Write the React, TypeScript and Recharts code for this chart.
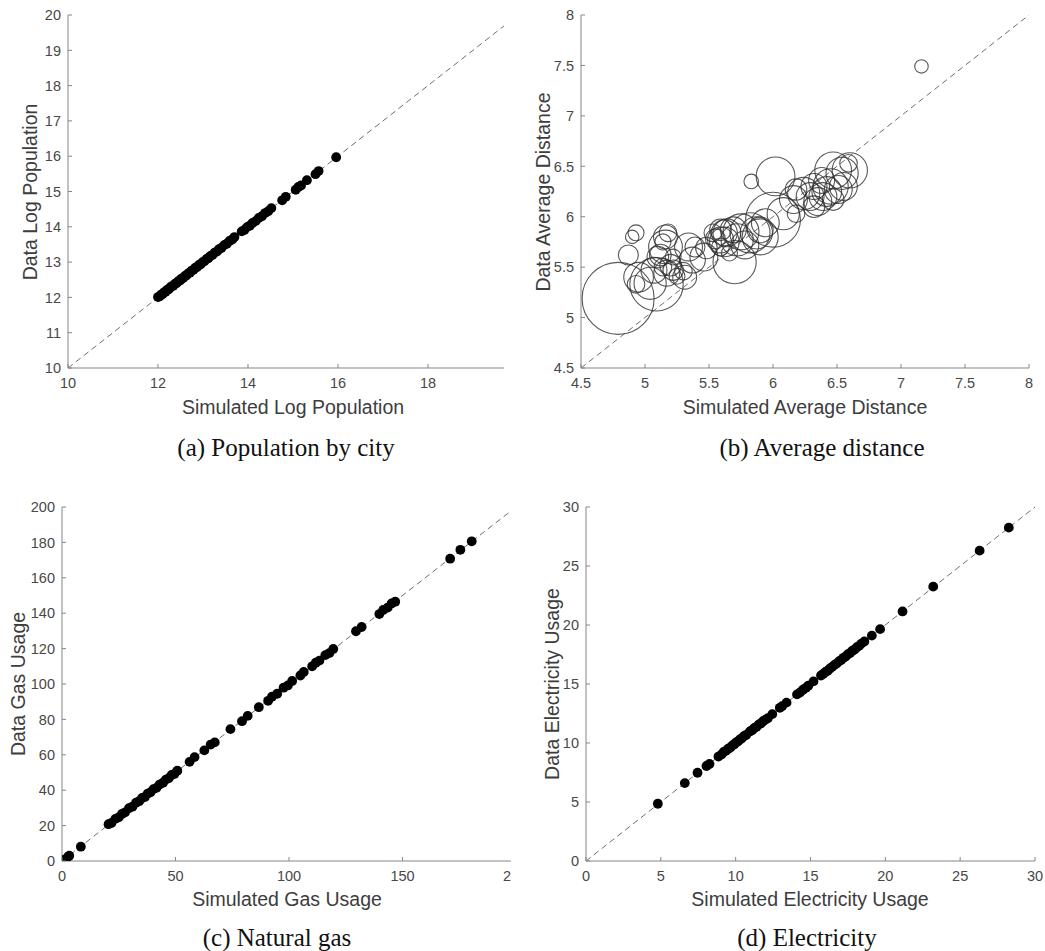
import React from 'react';
import { ScatterChart, Scatter, XAxis, YAxis, ZAxis, ReferenceLine } from 'recharts';

// ---------- Data ----------
// (a) Population by city
const popSim = [12.00, 12.04, 12.07, 12.10, 12.13, 12.17, 12.20, 12.24, 12.27, 12.30, 12.34, 12.38, 12.41, 12.45, 12.49, 12.52, 12.56, 12.60, 12.63, 12.67, 12.71, 12.75, 12.79, 12.83, 12.87, 12.91, 12.95, 12.99, 13.03, 13.08, 13.12, 13.16, 13.21, 13.26, 13.31, 13.36, 13.41, 13.47, 13.53, 13.59, 13.65, 13.70, 13.86, 13.92, 13.98, 14.04, 14.10, 14.17, 14.24, 14.31, 14.38, 14.45, 14.52, 14.76, 14.84, 15.06, 15.12, 15.18, 15.31, 15.50, 15.57, 15.96];
const popData = [12.01, 12.03, 12.08, 12.09, 12.14, 12.16, 12.21, 12.23, 12.28, 12.31, 12.33, 12.39, 12.40, 12.46, 12.48, 12.53, 12.55, 12.61, 12.62, 12.68, 12.70, 12.76, 12.78, 12.84, 12.86, 12.92, 12.94, 13.00, 13.02, 13.09, 13.11, 13.17, 13.20, 13.27, 13.30, 13.37, 13.40, 13.48, 13.52, 13.60, 13.64, 13.71, 13.87, 13.91, 13.99, 14.03, 14.11, 14.16, 14.25, 14.30, 14.39, 14.44, 14.53, 14.75, 14.85, 15.05, 15.13, 15.17, 15.32, 15.49, 15.58, 15.97];
const popXTicks = [10, 12, 14, 16, 18];
const popYTicks = [10, 11, 12, 13, 14, 15, 16, 17, 18, 19, 20];

// (b) Average distance (bubble weight = relative city size)
const distSim = [4.79, 7.16, 5.83, 6.02, 6.00, 5.70, 5.09, 4.87, 4.93, 4.90, 4.95, 4.93, 5.04, 5.07, 5.10, 5.16, 5.18, 5.16, 5.14, 5.17, 5.14, 5.22, 5.30, 5.31, 5.34, 5.37, 5.46, 5.48, 5.53, 5.59, 5.59, 5.64, 5.69, 5.72, 5.82, 5.87, 5.90, 5.94, 6.08, 6.16, 6.18, 6.24, 6.29, 6.32, 6.39, 6.45, 6.47, 6.54, 6.60, 6.59, 6.51, 6.38, 6.47, 6.32, 6.18, 5.59, 5.66, 5.22, 5.25, 5.39, 5.62, 5.75, 5.62, 5.90, 5.78, 5.55, 6.42, 6.35, 6.55, 5.12, 5.20];
const distData = [5.19, 7.49, 6.35, 6.40, 5.97, 5.55, 5.33, 5.62, 5.84, 5.80, 5.40, 5.33, 5.34, 5.47, 5.60, 5.70, 5.84, 5.80, 5.75, 5.44, 5.50, 5.47, 5.46, 5.40, 5.70, 5.57, 5.60, 5.69, 5.84, 5.87, 5.77, 5.84, 5.87, 5.77, 5.84, 5.84, 5.87, 5.94, 6.03, 6.17, 6.03, 6.23, 6.20, 6.30, 6.20, 6.30, 6.46, 6.43, 6.46, 6.53, 6.27, 6.36, 6.17, 6.10, 6.27, 5.70, 5.64, 5.60, 5.41, 5.70, 5.84, 5.85, 5.75, 5.80, 5.72, 5.78, 6.25, 6.15, 6.30, 5.62, 5.52];
const distWeight = [100, 3.5, 4.1, 29, 58, 36, 55, 7.7, 4.9, 3.5, 17, 6, 20, 13, 9, 22, 6, 11, 5, 13, 6, 8, 6, 11, 15, 13, 15, 9, 6, 9, 13, 15, 13, 20, 31, 20, 13, 15, 20, 15, 6, 20, 15, 13, 15, 24, 26, 20, 24, 6, 15, 13, 9, 9, 9, 6, 4.9, 4.9, 4.9, 7.7, 13, 25, 17, 25, 15, 7.7, 17, 15, 15, 9, 9];
const distTicks = [4.5, 5, 5.5, 6, 6.5, 7, 7.5, 8];

// (c) Natural gas
const gasSim = [0.2, 1.0, 2.5, 3.2, 8.3, 20.5, 21.8, 23.5, 25.0, 26.4, 27.8, 29.5, 31.0, 32.6, 34.0, 35.3, 36.5, 37.8, 39.0, 40.3, 41.6, 43.0, 44.5, 45.8, 47.0, 48.3, 49.5, 50.8, 56.2, 58.4, 62.7, 65.5, 67.3, 74.2, 79.3, 81.8, 86.7, 90.8, 92.5, 94.8, 97.6, 99.5, 101.4, 105.0, 106.5, 110.2, 111.8, 113.4, 116.0, 117.8, 119.5, 129.5, 132.0, 139.8, 141.5, 143.5, 145.2, 146.8, 171.0, 175.5, 180.5];
const gasData = [0.1, 0.8, 2.2, 3.0, 8.1, 20.8, 21.5, 23.8, 24.7, 26.6, 27.5, 29.8, 30.7, 32.9, 33.8, 35.6, 36.2, 38.1, 38.8, 40.6, 41.3, 43.2, 44.2, 46.0, 46.8, 48.6, 49.2, 51.0, 56.0, 58.7, 62.5, 65.8, 67.0, 74.5, 79.0, 82.0, 86.9, 90.5, 92.8, 94.5, 97.9, 99.2, 101.7, 104.8, 106.8, 110.0, 112.0, 113.2, 116.3, 117.5, 119.8, 129.8, 132.2, 139.5, 141.8, 143.2, 145.5, 146.5, 170.8, 175.8, 180.6];
const gasXTicks = [0, 50, 100, 150, 200];
// the last label is cropped to "2" in the original figure
const gasXTickLabels = ['0', '50', '100', '150', '2'];
const gasYTicks = [0, 20, 40, 60, 80, 100, 120, 140, 160, 180, 200];

// (d) Electricity
const elecSim = [4.8, 6.6, 7.45, 8.05, 8.25, 8.85, 9.05, 9.2, 9.35, 9.5, 9.65, 9.78, 9.9, 10.02, 10.15, 10.28, 10.4, 10.55, 10.7, 10.95, 11.1, 11.25, 11.4, 11.55, 11.7, 11.85, 12.0, 12.15, 12.45, 12.95, 13.1, 13.4, 14.1, 14.3, 14.5, 14.7, 14.85, 15.2, 15.7, 15.85, 16.0, 16.15, 16.3, 16.45, 16.6, 16.75, 16.9, 17.05, 17.2, 17.35, 17.5, 17.65, 17.8, 17.95, 18.1, 18.25, 18.4, 18.6, 19.1, 19.65, 21.15, 23.2, 26.3, 28.25];
const elecData = [4.85, 6.6, 7.48, 8.05, 8.22, 8.85, 9.02, 9.25, 9.33, 9.52, 9.62, 9.8, 9.88, 10.05, 10.12, 10.3, 10.38, 10.57, 10.68, 10.98, 11.08, 11.27, 11.38, 11.57, 11.68, 11.87, 11.98, 12.1, 12.45, 12.98, 13.12, 13.42, 14.12, 14.28, 14.52, 14.68, 14.85, 15.22, 15.72, 15.85, 16.02, 16.13, 16.32, 16.45, 16.62, 16.73, 16.92, 17.03, 17.22, 17.33, 17.52, 17.63, 17.82, 17.93, 18.12, 18.23, 18.42, 18.6, 19.1, 19.65, 21.15, 23.25, 26.3, 28.25];
const elecTicks = [0, 5, 10, 15, 20, 25, 30];

// ---------- Styles ----------
const AXIS = '#858585';
const TICK_TEXT = '#484848';
const LABEL_TEXT = '#3d3d3d';
const SANS = '"Liberation Sans", Arial, Helvetica, sans-serif';
const SERIF = '"Liberation Serif", "Times New Roman", serif';
const TICK_FS = 14.5;
const LABEL_FS = 19.5;
const CAPTION_FS = 25;
const TICK_LEN = 4;
const XM = 10;
const YM = 7;

const zip = (xs: number[], ys: number[]) =>
  xs.slice(0, Math.min(xs.length, ys.length)).map((x, i) => ({ x, y: ys[i] }));
const zip3 = (xs: number[], ys: number[], zs: number[]) =>
  xs.slice(0, Math.min(xs.length, ys.length, zs.length)).map((x, i) => ({ x, y: ys[i], z: zs[i] }));

const XTick = (props: any) => {
  const { x, y, payload, labels, ticks, maxX } = props;
  const ay = y - XM;
  let label: any = payload.value;
  if (labels && ticks) {
    const idx = ticks.indexOf(payload.value);
    if (idx >= 0) label = labels[idx];
  }
  const lx = maxX != null ? Math.min(x, maxX) : x;
  return (
    <g>
      <line x1={x} x2={x} y1={ay} y2={ay - TICK_LEN} stroke={AXIS} strokeWidth={1} />
      <text x={lx} y={y} dy="0.71em" textAnchor="middle" fontFamily={SANS} fontSize={TICK_FS} fill={TICK_TEXT}>
        {label}
      </text>
    </g>
  );
};

const YTick = (props: any) => {
  const { x, y, payload } = props;
  const ax = x + YM;
  return (
    <g>
      <line x1={ax} x2={ax + TICK_LEN} y1={y} y2={y} stroke={AXIS} strokeWidth={1} />
      <text x={x} y={y} dy="0.36em" textAnchor="end" fontFamily={SANS} fontSize={TICK_FS} fill={TICK_TEXT}>
        {payload.value}
      </text>
    </g>
  );
};

const Dot = (props: any) => {
  const { cx, cy } = props;
  if (cx == null || cy == null) return null;
  return <circle cx={cx} cy={cy} r={4.9} fill="#000" />;
};

const Ring = (props: any) => {
  const { cx, cy, width, size } = props;
  if (cx == null || cy == null) return null;
  const r = width ? width / 2 : Math.sqrt((size || 64) / Math.PI);
  return <circle cx={cx} cy={cy} r={r} fill="none" stroke="#2e2e2e" strokeOpacity={0.8} strokeWidth={1.1} />;
};

type PanelProps = {
  left: number;
  top: number;
  clipWidth: number;
  width: number;
  height: number;
  margin: { top: number; right: number; bottom: number; left: number };
  xDomain: [number, number];
  yDomain: [number, number];
  xTicks: number[];
  xLabels?: string[];
  xMaxLabel?: number;
  yTicks: number[];
  diagEnd: number;
  diagStart: number;
  children: React.ReactNode;
  z?: boolean;
};

const Panel = (p: PanelProps) => (
  <div style={{ position: 'absolute', left: p.left, top: p.top, width: p.clipWidth, height: p.height, overflow: 'hidden' }}>
    <ScatterChart width={p.width} height={p.height} margin={p.margin}>
      <XAxis
        type="number"
        dataKey="x"
        domain={p.xDomain}
        ticks={p.xTicks}
        interval={0}
        allowDataOverflow
        height={30}
        tickSize={0}
        tickMargin={XM}
        tickLine={false}
        axisLine={{ stroke: AXIS, strokeWidth: 1 }}
        tick={<XTick labels={p.xLabels} ticks={p.xTicks} maxX={p.xMaxLabel} />}
      />
      <YAxis
        type="number"
        dataKey="y"
        domain={p.yDomain}
        ticks={p.yTicks}
        interval={0}
        allowDataOverflow
        width={40}
        tickSize={0}
        tickMargin={YM}
        tickLine={false}
        axisLine={{ stroke: AXIS, strokeWidth: 1 }}
        tick={<YTick />}
      />
      {p.z ? <ZAxis type="number" dataKey="z" domain={[0, 100]} range={[0, Math.PI * 36 * 36]} /> : null}
      <ReferenceLine
        segment={[
          { x: p.diagStart, y: p.diagStart },
          { x: p.diagEnd, y: p.diagEnd },
        ]}
        stroke="#6e6e6e"
        strokeWidth={1}
        strokeDasharray="6 4"
        ifOverflow="visible"
      />
      {p.children}
    </ScatterChart>
  </div>
);

export default function App() {
  return (
    <div style={{ position: 'absolute', left: 0, top: 0, width: 1045, height: 951, overflow: 'hidden', background: '#fff' }}>
      {/* (a) */}
      <Panel
        left={0} top={0} clipWidth={520} width={520} height={460}
        margin={{ top: 15, right: 16, bottom: 62, left: 28 }}
        xDomain={[10, 19.69]} yDomain={[10, 20]} xTicks={popXTicks} yTicks={popYTicks}
        diagStart={10} diagEnd={19.69}
      >
        <Scatter data={zip(popSim, popData)} shape={<Dot />} isAnimationActive={false} />
      </Panel>
      {/* (b) */}
      <Panel
        left={520} top={0} clipWidth={525} width={525} height={460}
        margin={{ top: 15, right: 16, bottom: 62, left: 21 }}
        xDomain={[4.5, 8]} yDomain={[4.5, 8]} xTicks={distTicks} yTicks={distTicks}
        diagStart={4.5} diagEnd={8} z
      >
        <Scatter data={zip3(distSim, distData, distWeight)} shape={<Ring />} isAnimationActive={false} />
      </Panel>
      {/* (c) */}
      <Panel
        left={0} top={490} clipWidth={511} width={540} height={461}
        margin={{ top: 17, right: 24, bottom: 60, left: 22 }}
        xDomain={[0, 200]} yDomain={[0, 200]} xTicks={gasXTicks} xLabels={gasXTickLabels} xMaxLabel={507}
        yTicks={gasYTicks}
        diagStart={0} diagEnd={200}
      >
        <Scatter data={zip(gasSim, gasData)} shape={<Dot />} isAnimationActive={false} />
      </Panel>
      {/* (d) */}
      <Panel
        left={520} top={490} clipWidth={525} width={540} height={461}
        margin={{ top: 17, right: 25, bottom: 60, left: 26 }}
        xDomain={[0, 30]} yDomain={[0, 30]} xTicks={elecTicks} yTicks={elecTicks}
        diagStart={0} diagEnd={30}
      >
        <Scatter data={zip(elecSim, elecData)} shape={<Dot />} isAnimationActive={false} />
      </Panel>

      <svg width={1045} height={951} style={{ position: 'absolute', left: 0, top: 0, pointerEvents: 'none' }}>
        <g fontFamily={SANS} fontSize={LABEL_FS} fill={LABEL_TEXT} textAnchor="middle" dominantBaseline="central">
          <text x={30} y={192} transform="rotate(-90 30 192)">Data Log Population</text>
          <text x={293} y={407}>Simulated Log Population</text>
          <text x={543} y={192} transform="rotate(-90 543 192)">Data Average Distance</text>
          <text x={805} y={407}>Simulated Average Distance</text>
          <text x={18} y={684} transform="rotate(-90 18 684)">Data Gas Usage</text>
          <text x={287} y={899}>Simulated Gas Usage</text>
          <text x={552} y={684} transform="rotate(-90 552 684)">Data Electricity Usage</text>
          <text x={810} y={899}>Simulated Electricity Usage</text>
        </g>
        <g fontFamily={SERIF} fontSize={CAPTION_FS} fill="#111" textAnchor="middle" dominantBaseline="central">
          <text x={286} y={447}>(a) Population by city</text>
          <text x={822} y={447}>(b) Average distance</text>
          <text x={277} y={937}>(c) Natural gas</text>
          <text x={807} y={937}>(d) Electricity</text>
        </g>
      </svg>
    </div>
  );
}
